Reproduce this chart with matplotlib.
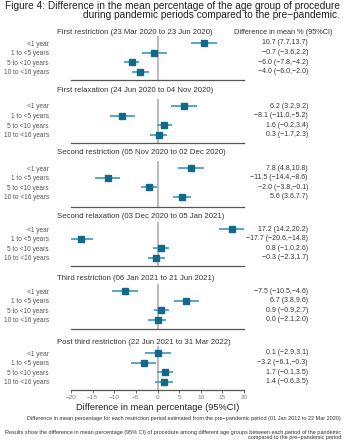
import numpy as np
import matplotlib.pyplot as plt

plt.rcParams['font.family'] = ['Liberation Sans', 'DejaVu Sans']

# Forest plot data: one block per pandemic period
periods = [
    "First restriction (23 Mar 2020 to 23 Jun 2020)",
    "First relaxation (24 Jun 2020 to 04 Nov 2020)",
    "Second restriction (05 Nov 2020 to 02 Dec 2020)",
    "Second relaxation (03 Dec 2020 to 05 Jan 2021)",
    "Third restriction (06 Jan 2021 to 21 Jun 2021)",
    "Post third restriction (22 Jun 2021 to 31 Mar 2022)",
]
age_groups = ["<1 year", "1 to <5 years", "5 to <10 years", "10 to <16 years"]

est = [
    [10.7, -0.7, -6.0, -4.0],
    [6.2, -8.1, 1.6, 0.3],
    [7.8, -11.5, -2.0, 5.6],
    [17.2, -17.7, 0.8, -0.3],
    [-7.5, 6.7, 0.9, 0.0],
    [0.1, -3.2, 1.7, 1.4],
]
lower = [
    [7.7, -3.6, -7.8, -6.0],
    [3.2, -11.0, -0.2, -1.7],
    [4.8, -14.4, -3.8, 3.6],
    [14.2, -20.6, -1.0, -2.3],
    [-10.5, 3.8, -0.9, -2.1],
    [-2.9, -6.1, -0.1, -0.6],
]
upper = [
    [13.7, 2.2, -4.2, -2.0],
    [9.2, -5.2, 3.4, 2.3],
    [10.8, -8.6, -0.1, 7.7],
    [20.2, -14.8, 2.6, 1.7],
    [-4.6, 9.6, 2.7, 2.0],
    [3.1, -0.3, 3.5, 3.5],
]
xticks = [-20, -15, -10, -5, 0, 5, 10, 15, 20]

# panel layout in pixels: (title y, first row y, baseline y)
layout = [(32, 43, 80), (90, 106, 143), (153, 168, 207),
          (216, 229, 266), (279, 291, 329), (342, 353, 390)]
row_step = 9.6

W, H = 343, 440
fig = plt.figure(figsize=(W / 100, H / 100), dpi=100)

x0, x1 = 71, 244
mark_col = "#12698c"
ci_col = "#5aa6c6"
fmt = lambda v: f"{v:.1f}".replace("-", "\u2212")

for p, (ty, r1, base) in enumerate(layout):
    top = r1 - 7
    ax = fig.add_axes([x0 / W, 1 - base / H, (x1 - x0) / W, (base - top) / H])
    ypos = np.arange(4)
    ax.set_xlim(-20, 20)
    ax.set_ylim(ypos[0] + (base - r1) / row_step, ypos[0] - (r1 - top) / row_step)
    ax.axvline(0, color="#bdbdbd", lw=1.5, zorder=0)
    ax.hlines(ypos, lower[p], upper[p], color=ci_col, lw=1.4, zorder=2)
    ax.plot(est[p], ypos, "s", color=mark_col, ms=3.7, zorder=3, mec=mark_col)
    for s in ["top", "right", "left"]:
        ax.spines[s].set_visible(False)
    ax.spines["bottom"].set_color("#555555")
    ax.spines["bottom"].set_linewidth(0.9)
    ax.set_yticks(ypos)
    ax.set_yticklabels(age_groups, fontsize=4.7, color="#555555")
    ax.tick_params(axis="y", length=0, pad=16)
    ax.set_xticks(xticks)
    if p == len(layout) - 1:
        ax.set_xticklabels([fmt(t).replace(".0", "") for t in xticks],
                           fontsize=4.6, color="#777777")
        ax.tick_params(axis="x", length=2, width=0.6, color="#555555", pad=1.5)
        ax.set_xlabel("Difference in mean percentage (95%CI)", fontsize=6.7,
                      color="#222222", labelpad=2)
    else:
        ax.tick_params(axis="x", length=0, labelbottom=False)
    # period heading and estimate labels
    fig.text(57 / W, 1 - ty / H, periods[p], fontsize=5.6, color="#333333",
             va="center", ha="left")
    for i in range(4):
        txt = f"{fmt(est[p][i])} ({fmt(lower[p][i])},{fmt(upper[p][i])})"
        fig.text(308 / W, 1 - (r1 + i * row_step) / H, txt, fontsize=5.0,
                 color="#333333", va="center", ha="right")

fig.text(333 / W, 1 - 32 / H, "Difference in mean % (95%CI)", fontsize=5.35,
         color="#333333", va="center", ha="right")

fig.text(340 / W, 1 - 10.5 / H,
         "Figure 4: Difference in the mean percentage of the age group of procedure\n"
         "during pandemic periods compared to the pre\u2212pandemic.",
         fontsize=7.25, color="#222222", ha="right", va="center", linespacing=0.95)

fig.text(341 / W, 1 - 418 / H,
         "Difference in mean percentage for each restriction period estimated from the "
         "pre\u2212pandemic period (01 Jan 2012 to 22 Mar 2020)",
         fontsize=4.0, color="#333333", ha="right", va="center")
fig.text(341 / W, 1 - 435 / H,
         "Results show the difference in mean percentage (95% CI) of procedure among "
         "different age groups between each period of the pandemic\n"
         "compared to the pre\u2212pandemic period",
         fontsize=4.0, color="#333333", ha="right", va="center", linespacing=1.0)

fig.savefig("out.png", dpi=100)
